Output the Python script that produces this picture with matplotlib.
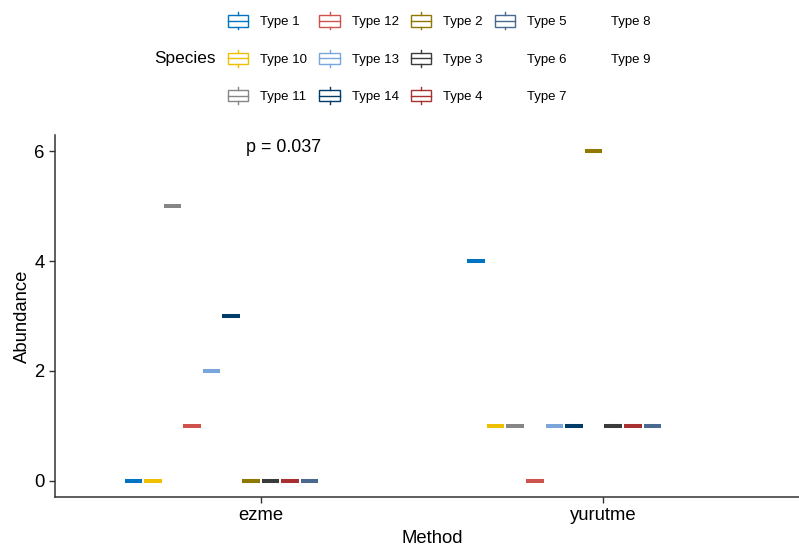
import numpy as np
import matplotlib
matplotlib.use("Agg")
import matplotlib.pyplot as plt
from matplotlib.legend_handler import HandlerBase
from matplotlib.patches import Rectangle
from matplotlib.lines import Line2D

plt.rcParams['font.family'] = ['Liberation Sans', 'DejaVu Sans']

# data
methods = ['ezme', 'yurutme']
species = ['Type 1', 'Type 10', 'Type 11', 'Type 12', 'Type 13', 'Type 14', 'Type 2',
           'Type 3', 'Type 4', 'Type 5', 'Type 6', 'Type 7', 'Type 8', 'Type 9']
ezme = [0, 0, 5, 1, 2, 3, 0, 0, 0, 0, None, None, None, None]
yurutme = [4, 1, 1, 0, 1, 1, 6, 1, 1, 1, None, None, None, None]
# jco palette, only 10 colours -> Types 6-9 get none
colors = ['#0073C2', '#EFC000', '#868686', '#CD534C', '#7AA6DC', '#003C67',
          '#8F7700', '#3B3B3B', '#A73030', '#4A6990', 'none', 'none', 'none', 'none']
p_label = 'p = 0.037'


class BoxKey(HandlerBase):
    def create_artists(self, legend, orig_handle, xdescent, ydescent, width, height, fontsize, trans):
        c = orig_handle.get_color()
        if c == 'none':
            # nothing to draw, but legend wants one artist
            return [Line2D([], [], color='none', transform=trans)]
        x0, y0 = -xdescent, -ydescent
        bh = height * 0.67
        by = y0 + (height - bh) / 2
        cx = x0 + width / 2
        rect = Rectangle((x0, by), width, bh, fill=False, edgecolor=c, lw=1, transform=trans)
        mid = Line2D([x0, x0 + width], [y0 + height / 2] * 2, color=c, lw=1, transform=trans)
        w1 = Line2D([cx, cx], [y0, by], color=c, lw=1, transform=trans)
        w2 = Line2D([cx, cx], [by + bh, y0 + height], color=c, lw=1, transform=trans)
        return [rect, mid, w1, w2]


fig = plt.figure(figsize=(7.99, 5.49), dpi=100)
ax = fig.add_axes([55 / 799, 52 / 549, 754 / 799, 362 / 549])

n = len(species)
slot = 0.8 / n
bw = slot * 0.9
for mi, vals in enumerate([ezme, yurutme]):
    for j, v in enumerate(vals):
        if v is None or colors[j] == 'none':
            continue
        x = mi + 1 + (j - (n - 1) / 2) * slot
        c = colors[j]
        # single value per group -> box collapses to its median line
        ax.boxplot([[v]], positions=[x], widths=bw, showcaps=False, showfliers=False,
                   manage_ticks=False,
                   boxprops=dict(color=c, lw=0),
                   medianprops=dict(color=c, lw=2.9, solid_capstyle='butt'),
                   whiskerprops=dict(color=c, lw=0))

ax.set_xlim(0.4, 2.6)
ax.set_ylim(-0.3, 6.3)
ax.set_xticks([1, 2])
ax.set_xticklabels(methods)
ax.set_yticks([0, 2, 4, 6])
ax.tick_params(labelsize=13.3, length=4, width=1, colors='#333333', labelcolor='black', direction='out')
for s in ['top', 'right']:
    ax.spines[s].set_visible(False)
for s in ['left', 'bottom']:
    ax.spines[s].set_color('#333333')
    ax.spines[s].set_linewidth(1.1)
ax.set_xlabel('Method', fontsize=13.3, labelpad=4)
ax.set_ylabel('Abundance', fontsize=13.3, labelpad=2)

ax.text(0.957, 6.08, p_label, fontsize=12.9, ha='left', va='center')

handles = [Line2D([], [], color=c) for c in colors]
fig.legend(handles, species, handler_map={Line2D: BoxKey()}, ncol=5,
           loc='upper left', bbox_to_anchor=(228 / 799, 1 - 12.5 / 549),
           frameon=False, fontsize=9.5, handlelength=1.55, handleheight=1.6,
           handletextpad=0.9, labelspacing=1.55, columnspacing=0.92,
           borderpad=0, borderaxespad=0)
fig.text(216 / 799, 1 - 58.5 / 549, 'Species', fontsize=12.4, ha='right', va='center')

fig.savefig('out.png', dpi=100)
